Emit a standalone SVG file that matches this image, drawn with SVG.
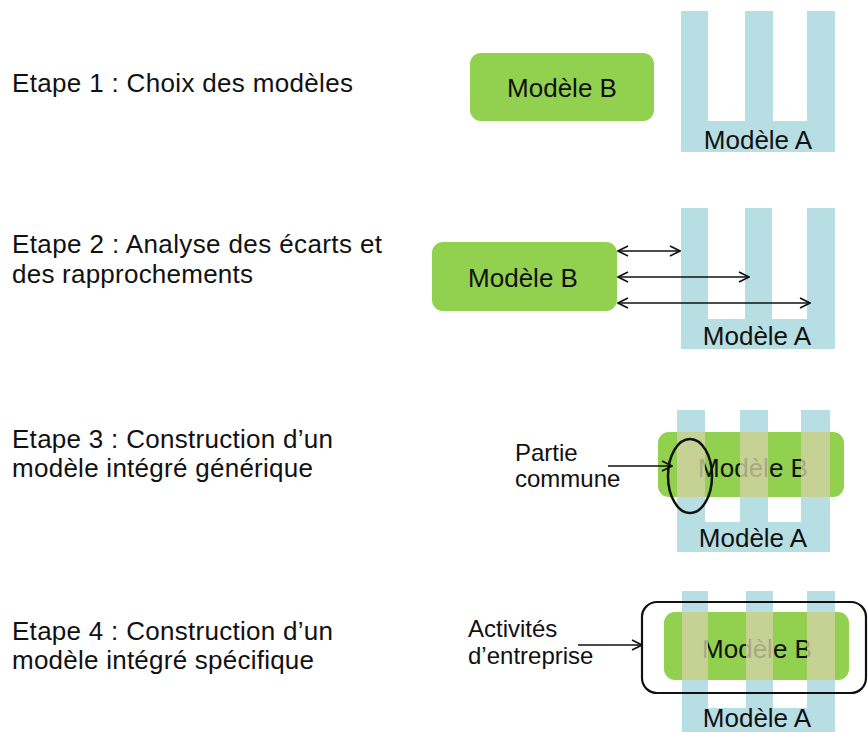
<svg xmlns="http://www.w3.org/2000/svg" width="868" height="732" viewBox="0 0 868 732">
<style>
text{font-family:"Liberation Sans",Arial,sans-serif;fill:#111}
.step{font-size:26px}
.lbl{font-size:26px;text-anchor:middle}
.note{font-size:24px}
.a{fill:#b7dee3}
.b{fill:#92d050}
.ov{fill:#d3d2a6;opacity:0.78}
.ln{stroke:#111;stroke-width:1.6;fill:none}
</style>
<defs>
<marker id="ah" viewBox="0 0 12 12" refX="11" refY="6" markerWidth="12" markerHeight="12" markerUnits="userSpaceOnUse" orient="auto-start-reverse">
<path d="M1,1 L11,6 L1,11" fill="none" stroke="#111" stroke-width="1.6"/>
</marker>
</defs>
<rect width="868" height="732" fill="#fff"/>

<g id="step1">
<text class="step" x="12" y="92" textLength="341" lengthAdjust="spacing">Etape 1 : Choix des modèles</text>
<g id="s1-modelA">
<path class="a" d="M681,11 H708 V121 H745 V11 H773 V121 H807 V11 H835 V152 H681 Z"/>
<text class="lbl" x="758" y="149">Modèle A</text>
</g>
<g id="s1-modelB">
<rect class="b" x="470" y="53" width="184" height="68" rx="11"/>
<text class="lbl" x="562" y="97">Modèle B</text>
</g>
</g>

<g id="step2">
<text class="step" x="12" y="253" textLength="370" lengthAdjust="spacing">Etape 2 : Analyse des écarts et</text>
<text class="step" x="12" y="283" textLength="241" lengthAdjust="spacing">des rapprochements</text>
<g id="s2-modelA">
<path class="a" d="M681,208 H708 V319 H745 V208 H772 V319 H807 V208 H835 V349 H681 Z"/>
<text class="lbl" x="757" y="345">Modèle A</text>
</g>
<g id="s2-modelB">
<rect class="b" x="432" y="242" width="185" height="69" rx="11"/>
<text class="lbl" x="523" y="287">Modèle B</text>
</g>
</g>

<g id="step3">
<text class="step" x="12" y="448" textLength="321" lengthAdjust="spacing">Etape 3 : Construction d’un</text>
<text class="step" x="12" y="477" textLength="301" lengthAdjust="spacing">modèle intégré générique</text>
<g id="s3-modelA">
<path class="a" d="M677,410 H705 V522 H740 V410 H768 V522 H801 V410 H830 V552 H677 Z"/>
<text class="lbl" x="753" y="547">Modèle A</text>
</g>
<g id="s3-modelB">
<rect class="b" x="658" y="432" width="186" height="65" rx="11"/>
<text class="lbl" x="753" y="477">Modèle B</text>
<rect class="ov" x="677" y="432" width="28" height="65"/>
<rect class="ov" x="740" y="432" width="28" height="65"/>
<rect class="ov" x="801" y="432" width="29" height="65"/>
</g>
<g id="s3-partie">
<text class="note" x="515" y="461">Partie</text>
<text class="note" x="515" y="487">commune</text>
<ellipse cx="690" cy="476" rx="22" ry="37" fill="none" stroke="#111" stroke-width="2.5"/>
</g>
</g>

<g id="step4">
<text class="step" x="12" y="640" textLength="321" lengthAdjust="spacing">Etape 4 : Construction d’un</text>
<text class="step" x="12" y="669" textLength="302" lengthAdjust="spacing">modèle intégré spécifique</text>
<g id="s4-modelA">
<path class="a" d="M682,591 H708 V708 H746 V591 H773 V708 H807 V591 H835 V740 H682 Z"/>
<text class="lbl" x="757" y="727">Modèle A</text>
</g>
<g id="s4-modelB">
<rect class="b" x="664" y="612" width="185" height="68" rx="11"/>
<text class="lbl" x="757" y="658">Modèle B</text>
<rect class="ov" x="682" y="612" width="26" height="68"/>
<rect class="ov" x="746" y="612" width="27" height="68"/>
<rect class="ov" x="807" y="612" width="28" height="68"/>
</g>
<g id="s4-activites">
<text class="note" x="468" y="637">Activités</text>
<text class="note" x="468" y="664">d’entreprise</text>
<rect x="642" y="602" width="224" height="91" rx="15" fill="none" stroke="#111" stroke-width="2.2"/>
</g>
</g>

<g id="connectors">
<line class="ln" x1="618" y1="251" x2="680" y2="251" marker-start="url(#ah)" marker-end="url(#ah)"/>
<line class="ln" x1="618" y1="277" x2="749" y2="277" marker-start="url(#ah)" marker-end="url(#ah)"/>
<line class="ln" x1="618" y1="303" x2="810" y2="303" marker-start="url(#ah)" marker-end="url(#ah)"/>
<line class="ln" x1="608" y1="466" x2="672" y2="466" marker-end="url(#ah)"/>
<line class="ln" x1="578" y1="645" x2="642" y2="645" marker-end="url(#ah)"/>
</g>
</svg>
